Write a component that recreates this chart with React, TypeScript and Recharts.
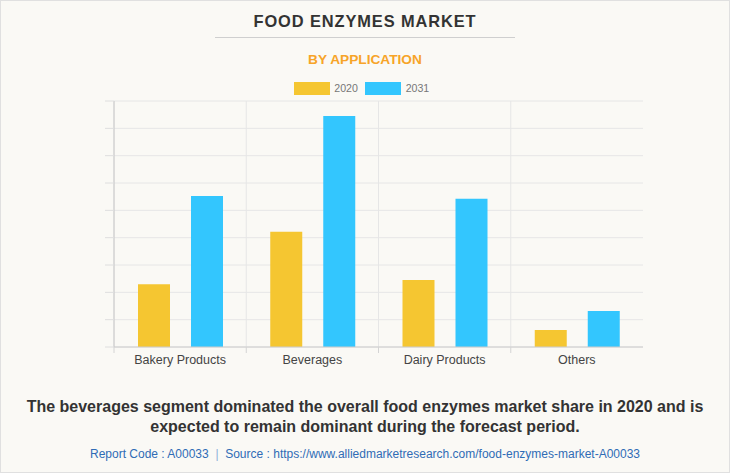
import { Bar, BarChart, CartesianGrid, XAxis, YAxis } from 'recharts';

const categories = ['Bakery Products', 'Beverages', 'Dairy Products', 'Others'];
const values2020 = [2.3, 4.22, 2.45, 0.62];
const values2031 = [5.52, 8.45, 5.42, 1.32];
const yTicks = [0, 1, 2, 3, 4, 5, 6, 7, 8, 9];

const series = [
  { key: 'y2020', name: '2020', color: '#F5C631' },
  { key: 'y2031', name: '2031', color: '#33C6FE' }
];

const data = categories.map((label, i) => ({
  label,
  y2020: values2020[i],
  y2031: values2031[i]
}));

const FONT = '"Liberation Sans", Arial, sans-serif';
const CHART_W = 730;
const MARGIN = { top: 101, right: 87, left: 94, bottom: 0 };
const Y_AXIS_W = 20;
const PLOT_W = CHART_W - MARGIN.left - MARGIN.right - Y_AXIS_W;
const TICK_SIZE = 6;
const TICK_MARGIN = 2;

function CategoryTick(props: any) {
  const { x, y, payload } = props;
  const band = PLOT_W / categories.length;
  const axisY = y - TICK_SIZE - TICK_MARGIN;
  return (
    <g>
      <line x1={x - band / 2} x2={x - band / 2} y1={axisY} y2={axisY + TICK_SIZE} stroke="#d4d4d4" />
      <text x={x} y={y} dy="0.71em" textAnchor="middle" fontSize={12.5} fill="#444" fontFamily={FONT}>
        {payload.value}
      </text>
    </g>
  );
}

const EmptyTick = () => <g />;

export default function App() {
  return (
    <div
      style={{
        position: 'fixed',
        top: 0,
        left: 0,
        width: 730,
        height: 473,
        boxSizing: 'border-box',
        border: '1px solid #e0e0e0',
        background: '#FAF9F5',
        fontFamily: FONT,
        overflow: 'hidden'
      }}
    >
      <div
        style={{
          position: 'absolute',
          top: 10.3,
          left: 0,
          width: '100%',
          textAlign: 'center',
          fontSize: 16.4,
          letterSpacing: 0.9,
          lineHeight: '20px',
          fontWeight: 'bold',
          color: '#333'
        }}
      >
        FOOD ENZYMES MARKET
      </div>
      <div style={{ position: 'absolute', top: 36, left: 214, width: 300, height: 1, background: '#cfcfcf' }} />
      <div
        style={{
          position: 'absolute',
          top: 50.5,
          left: 0,
          width: '100%',
          textAlign: 'center',
          fontSize: 13.7,
          lineHeight: '16px',
          fontWeight: 'bold',
          color: '#F7A428'
        }}
      >
        BY APPLICATION
      </div>
      <div style={{ position: 'absolute', top: 80.3, left: 293, display: 'flex', alignItems: 'center', zIndex: 2 }}>
        {series.map((s) => (
          <div key={s.key} style={{ display: 'flex', alignItems: 'center', marginRight: 7.5 }}>
            <div style={{ width: 36, height: 12.5, background: s.color, marginRight: 4.3 }} />
            <span style={{ fontSize: 10.6, color: '#777', lineHeight: '14px' }}>{s.name}</span>
          </div>
        ))}
      </div>
      <div style={{ position: 'absolute', top: -1, left: -1 }}>
        <BarChart width={CHART_W} height={375} data={data} margin={MARGIN} barSize={32} barGap={21}>
          <CartesianGrid
            stroke="#e6e6e6"
            verticalCoordinatesGenerator={({ offset }: any) =>
              categories.map((_, i) => offset.left + (offset.width * i) / categories.length)
            }
          />
          <XAxis
            dataKey="label"
            height={28}
            tickLine={false}
            tickSize={TICK_SIZE}
            tickMargin={TICK_MARGIN}
            axisLine={{ stroke: '#cccccc' }}
            tick={<CategoryTick />}
            interval={0}
          />
          <YAxis
            width={Y_AXIS_W}
            domain={[0, 9]}
            ticks={yTicks}
            interval={0}
            tick={<EmptyTick />}
            tickSize={9}
            tickLine={{ stroke: '#dedede' }}
            axisLine={{ stroke: '#c8c8c8' }}
          />
          {series.map((s) => (
            <Bar key={s.key} dataKey={s.key} name={s.name} fill={s.color} isAnimationActive={false} />
          ))}
        </BarChart>
      </div>
      <div
        style={{
          position: 'absolute',
          top: 395.9,
          left: 0,
          width: '100%',
          textAlign: 'center',
          fontSize: 16,
          lineHeight: '20.6px',
          fontWeight: 'bold',
          color: '#333'
        }}
      >
        The beverages segment dominated the overall food enzymes market share in 2020 and is
        <br />
        expected to remain dominant during the forecast period.
      </div>
      <div
        style={{
          position: 'absolute',
          top: 445.8,
          left: 0,
          width: '100%',
          textAlign: 'center',
          fontSize: 12,
          lineHeight: '14px',
          color: '#2F6CB5',
          whiteSpace: 'pre'
        }}
      >
        {'Report Code : A00033  '}
        <span style={{ color: '#8fb0d8' }}>|</span>
        {'  Source : https://www.alliedmarketresearch.com/food-enzymes-market-A00033'}
      </div>
    </div>
  );
}
